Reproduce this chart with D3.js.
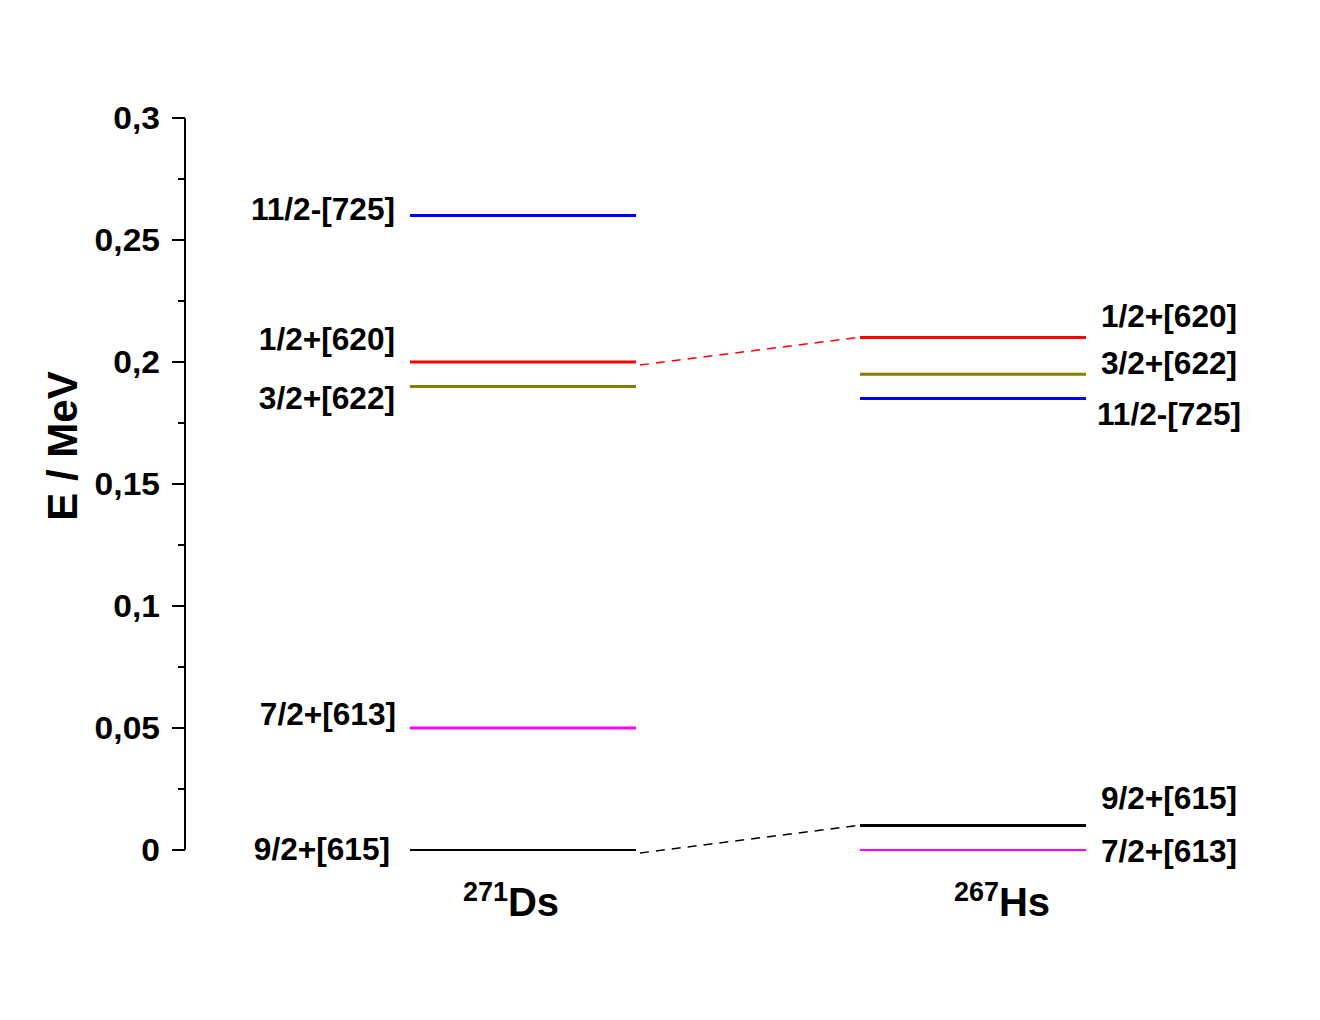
<!DOCTYPE html>
<html lang="en">
<head>
<meta charset="UTF-8">
<title>Levels</title>
<style>
  body { margin: 0; background: #fff; }
  svg { font-family: "Liberation Sans", Arial, sans-serif; font-weight: bold; }
</style>
<script src="https://cdn.jsdelivr.net/npm/d3@7"></script>
</head>
<body>
<div id="graphic"></div>
<script>
// data
var nuclei = [{ mass: "271", sym: "Ds" }, { mass: "267", sym: "Hs" }];
var levelNames = ["11/2-[725]", "1/2+[620]", "3/2+[622]", "7/2+[613]", "9/2+[615]"];
var levelColors = ["#0000ff", "#ff0000", "#808000", "#ff00ff", "#000000"];
var dsEnergies = [0.26, 0.2, 0.19, 0.05, 0];
var hsEnergies = [0.185, 0.21, 0.195, 0, 0.01];
var majorTicks = [0, 0.05, 0.1, 0.15, 0.2, 0.25, 0.3];
var minorTicks = [0.025, 0.075, 0.125, 0.175, 0.225, 0.275];
var tickLabels = ["0", "0,05", "0,1", "0,15", "0,2", "0,25", "0,3"];
// dashed links between the two nuclei: level index
var links = [1, 4];

// layout: label nudges (px) per level, for each nucleus
var dsLabelDy = [-7, -23, 12, -14, -1];
var dsLabelDx = [0, 0, 0, 1, -5];
var hsLabelDy = [15, -22, -11, 1, -28];

var width = 1320, height = 1020;
var axisX = 185;
var halfW = 113;

var svg = d3.select('#graphic').append('svg')
  .attr('width', width).attr('height', height);

var y = d3.scaleLinear().domain([0, 0.3]).range([850, 118]);
var x = d3.scalePoint().domain(nuclei.map(function (d) { return d.sym; })).range([523, 973]);

// axis
var axis = svg.append('g').attr('transform', 'translate(' + axisX + ',0)');
axis.append('line').attr('x1', 0).attr('x2', 0)
  .attr('y1', y(0.3)).attr('y2', y(0))
  .attr('stroke', '#000').attr('stroke-width', 2);
axis.selectAll('.major').data(majorTicks).join('line')
  .attr('x1', -13).attr('x2', 0)
  .attr('y1', function (d) { return y(d); }).attr('y2', function (d) { return y(d); })
  .attr('stroke', '#000').attr('stroke-width', 2);
axis.selectAll('.minor').data(minorTicks).join('line')
  .attr('x1', -7).attr('x2', 0)
  .attr('y1', function (d) { return y(d); }).attr('y2', function (d) { return y(d); })
  .attr('stroke', '#000').attr('stroke-width', 2);
axis.selectAll('.tl').data(majorTicks).join('text')
  .attr('transform', function (d) { return 'translate(-25,' + (y(d) + 11) + ') scale(1.05,1)'; })
  .attr('text-anchor', 'end')
  .attr('font-size', 32)
  .text(function (d, i) { return tickLabels[i]; });

svg.append('text')
  .attr('transform', 'translate(77,446) rotate(-90)')
  .attr('text-anchor', 'middle')
  .attr('font-size', 42)
  .text('E / MeV');

// levels
var series = [dsEnergies, hsEnergies];
series.forEach(function (energies, n) {
  var cx = x(nuclei[n].sym);
  var g = svg.append('g');
  g.selectAll('line').data(energies).join('line')
    .attr('x1', cx - halfW).attr('x2', cx + halfW)
    .attr('y1', function (d) { return y(d); }).attr('y2', function (d) { return y(d); })
    .attr('stroke', function (d, i) { return levelColors[i]; })
    .attr('stroke-width', function (d) { return d === 0 ? 2 : 3; });
  var dy = n === 0 ? dsLabelDy : hsLabelDy;
  g.selectAll('text').data(energies).join('text')
    .attr('transform', function (d, i) {
      var tx = n === 0 ? cx - halfW - 15 + dsLabelDx[i] : cx + halfW + 83;
      return 'translate(' + tx + ',' + (y(d) + dy[i] + 11) + ') scale(1.02,1)';
    })
    .attr('text-anchor', n === 0 ? 'end' : 'middle')
    .attr('font-size', 31)
    .text(function (d, i) { return levelNames[i]; });
});

// dashed links
svg.selectAll('.link').data(links).join('line')
  .attr('x1', x('Ds') + halfW + 4).attr('x2', x('Hs') - halfW - 3)
  .attr('y1', function (i) { return y(dsEnergies[i]) + 3; })
  .attr('y2', function (i) { return y(hsEnergies[i]); })
  .attr('stroke', function (i) { return levelColors[i]; })
  .attr('stroke-width', 1.5)
  .attr('stroke-dasharray', '9,7');

// nucleus labels
var labelDx = [-12, 29];
svg.selectAll('.nuc').data(nuclei).join('text')
  .attr('x', function (d, i) { return x(d.sym) + labelDx[i]; })
  .attr('y', 916)
  .attr('text-anchor', 'middle')
  .each(function (d) {
    var t = d3.select(this);
    t.append('tspan').attr('font-size', 27).attr('dy', -15).text(d.mass);
    t.append('tspan').attr('font-size', 40).attr('dy', 15).text(d.sym);
  });
</script>
</body>
</html>
